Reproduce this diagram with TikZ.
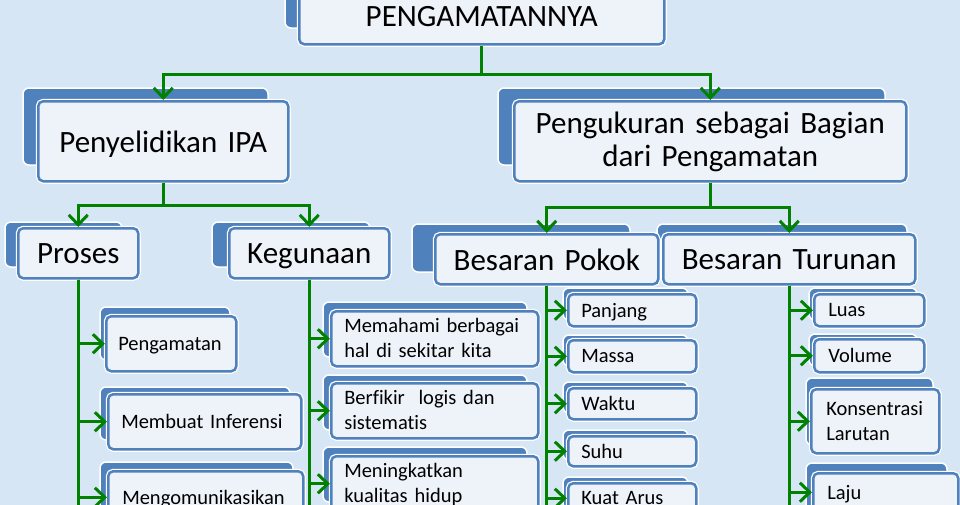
\documentclass[tikz,border=0pt]{standalone}
\usepackage{fontspec}
\setmainfont{Carlito}[Ligatures=NoCommon]
\usetikzlibrary{arrows.meta}
\definecolor{bg}{RGB}{214,230,245}
\definecolor{bblue}{RGB}{79,129,189}
\definecolor{ffill}{RGB}{238,243,250}
\definecolor{lgreen}{RGB}{0,130,0}
\tikzset{
  backbox/.style={fill=bblue, draw=white, line width=1.5pt, rounded corners=6pt},
  frontbox/.style={fill=ffill, draw=bblue, line width=2.5pt, rounded corners=5pt,
    preaction={draw=white, line width=5pt}, inner ysep=0pt, anchor=north west, text depth=0pt},
  bigtxt/.style={font=\fontsize{31}{33}\selectfont, align=center},
  smalltxt/.style={font=\fontsize{20.5}{25}\selectfont, align=left},
  twobig/.style={bigtxt, text depth=37pt},
  twosmall/.style={smalltxt, text depth=26pt},
  conn/.style={draw=lgreen, line width=3pt, -{Straight Barb[length=10pt,width=19pt]}},
  plainconn/.style={draw=lgreen, line width=3pt}
}
\newcommand\bx[8]{%
  \pgfmathsetmacro\bxw{#4-#2}%
  \pgfmathsetmacro\bxh{#5-#3}%
  \pgfmathsetmacro\bxt{#4-#2-2*#6}%
  \node[frontbox, #7, minimum width=\bxw pt, minimum height=\bxh pt, inner xsep=#6pt, text width=\bxt pt] (#1) at (#2,#3) {#8};%
}
\begin{document}
\begin{tikzpicture}[x=1pt,y=-1pt]
\useasboundingbox (0,0) rectangle (960,504);
\fill[bg] (0,-20) rectangle (960,524);
% back boxes
\draw[backbox] (285,-15) rectangle (648,28);
\draw[backbox] (23,88) rectangle (268,165);
\draw[backbox] (498,88) rectangle (885,165);
\draw[backbox] (5,222) rectangle (122,267);
\draw[backbox] (212,222) rectangle (370,267);
\draw[backbox] (412,224) rectangle (630,272);
\draw[backbox] (657,224) rectangle (907,272);
\draw[backbox] (100,307) rectangle (230,360);
\draw[backbox] (100,387) rectangle (290,440);
\draw[backbox] (100,462) rectangle (293,515);
\draw[backbox] (323,302) rectangle (527,357);
\draw[backbox] (323,375) rectangle (527,430);
\draw[backbox] (323,447) rectangle (527,502);
\draw[backbox] (563,288) rectangle (688,320);
\draw[backbox] (563,335) rectangle (688,366);
\draw[backbox] (563,382) rectangle (688,413);
\draw[backbox] (563,430) rectangle (688,460);
\draw[backbox] (563,477) rectangle (688,509);
\draw[backbox] (809,288) rectangle (917,320);
\draw[backbox] (809,334) rectangle (917,366);
\draw[backbox] (806,378) rectangle (933,445);
\draw[backbox] (806,463) rectangle (947,520);
% front boxes
\bx{top}{298}{-12}{663}{43}{5}{bigtxt}{PENGAMATANNYA}
\bx{peny}{37}{100}{287}{180}{5}{bigtxt}{Penyelidikan IPA}
\bx{peng}{513}{100}{905}{180}{5}{twobig}{Pengukuran sebagai Bagian\\dari Pengamatan}
\bx{proses}{17}{227}{137}{277}{3}{bigtxt}{Proses}
\bx{keg}{228}{227}{388}{277}{3}{bigtxt}{Kegunaan}
\bx{pokok}{434}{233}{657}{283}{3}{bigtxt}{Besaran Pokok}
\bx{turunan}{662}{233}{914}{283}{3}{bigtxt}{Besaran Turunan}
\bx{pengamatan}{105}{315}{235}{370}{12}{smalltxt}{Pengamatan}
\bx{membuat}{107}{393}{300}{448}{13}{smalltxt}{Membuat Inferensi}
\bx{mengom}{107}{470}{302}{522}{14}{smalltxt}{Mengomunikasikan}
\bx{memahami}{330}{310}{537}{365}{13}{twosmall}{Memahami berbagai\\hal di sekitar kita}
\bx{berfikir}{330}{382}{537}{437}{13}{twosmall}{Berfikir\ \ logis dan\\sistematis}
\bx{meningkat}{330}{455}{537}{510}{13}{twosmall}{Meningkatkan\\kualitas hidup}
\bx{panjang}{567}{293}{695}{325}{13}{smalltxt}{Panjang}
\bx{massa}{567}{339}{695}{371}{13}{smalltxt}{Massa}
\bx{waktu}{567}{387}{695}{418}{13}{smalltxt}{Waktu}
\bx{suhu}{567}{435}{695}{465}{13}{smalltxt}{Suhu}
\bx{kuat}{567}{482}{695}{512}{13}{smalltxt}{Kuat Arus}
\bx{luas}{813}{293}{923}{325}{14}{smalltxt}{Luas}
\bx{volume}{813}{338}{923}{371}{14}{smalltxt}{Volume}
\bx{konsentrasi}{810}{388}{938}{452}{15}{twosmall}{Konsentrasi\\Larutan}
\bx{laju}{812}{472}{957}{510}{14}{smalltxt}{Laju}
% connectors
\coordinate (bot) at (0,510);
\draw[conn] (top.south) -- ++(0,29) -| (peny.north);
\draw[conn] (top.south) -- ++(0,29) -| (peng.north);
\draw[conn] (peny.south) -- ++(0,23) -| (proses.north);
\draw[conn] (peny.south) -- ++(0,23) -| (keg.north);
\draw[conn] (peng.south) -- ++(0,25) -| (pokok.north);
\draw[conn] (peng.south) -- ++(0,25) -| (turunan.north);
\draw[plainconn] (proses.south) -- (proses.south |- bot);
\draw[plainconn] (keg.south) -- (keg.south |- bot);
\draw[plainconn] (pokok.south) -- (pokok.south |- bot);
\draw[plainconn] (turunan.south) -- (turunan.south |- bot);
\foreach \c in {pengamatan,membuat,mengom}{\draw[conn] (proses.south) |- (\c.west);}
\foreach \c in {memahami,berfikir,meningkat}{\draw[conn] (keg.south) |- (\c.west);}
\foreach \c in {panjang,massa,waktu,suhu,kuat}{\draw[conn] (pokok.south) |- (\c.west);}
\foreach \c in {luas,volume,konsentrasi,laju}{\draw[conn] (turunan.south) |- (\c.west);}
\end{tikzpicture}
\end{document}
